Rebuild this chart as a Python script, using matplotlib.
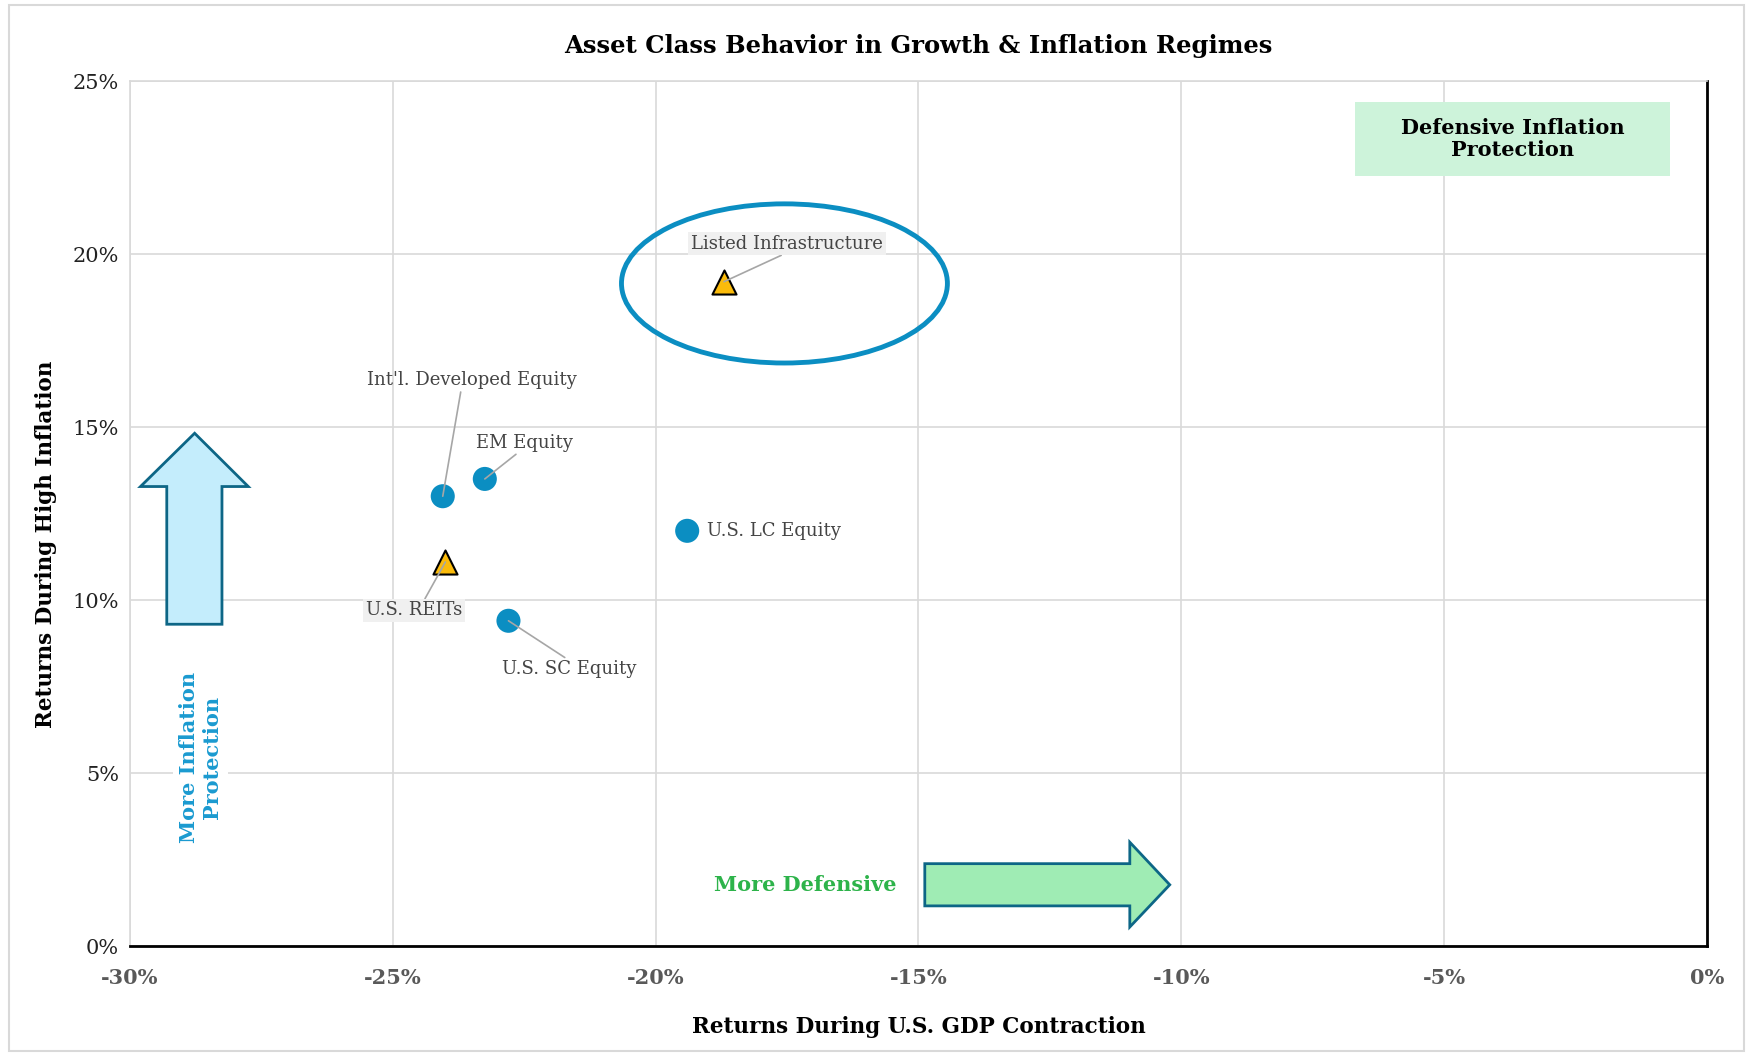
import numpy as np
import matplotlib.pyplot as plt
from matplotlib.patches import Ellipse, Rectangle, Polygon
from matplotlib.ticker import FuncFormatter

plt.rcParams['font.family'] = ['DejaVu Serif']

# data (returns in %)
assets = ["Int'l. Developed Equity", "EM Equity", "U.S. LC Equity", "U.S. SC Equity"]
gdp_ret = [-24.05, -23.25, -19.4, -22.8]
infl_ret = [13.0, 13.5, 12.0, 9.4]

real_assets = ["U.S. REITs", "Listed Infrastructure"]
gdp_real = [-24.0, -18.7]
infl_real = [11.1, 19.2]

# label positions (layout)
lab_pos = {
    "Int'l. Developed Equity": (-23.5, 16.35, 'center', (0.45, 0)),
    "EM Equity": (-22.5, 14.55, 'center', (0.45, 0)),
    "U.S. SC Equity": (-21.65, 8.0, 'center', (0.5, 1)),
    "U.S. REITs": (-24.6, 9.7, 'center', (0.6, 1)),
    "Listed Infrastructure": (-17.5, 20.3, 'center', (0.5, 0)),
}

blue = '#0b8ec2'
gold = '#fbbb0b'
txt = '#444444'

fig = plt.figure(figsize=(17.47, 10.55), dpi=100)
ax = fig.add_axes([0.0744, 0.1033, 0.9027, 0.8199])

ax.set_xlim(-30, 0)
ax.set_ylim(0, 25)
ax.set_xticks(np.arange(-30, 1, 5))
ax.set_yticks(np.arange(0, 26, 5))
ax.grid(True, color='#d9d9d9', lw=1.2)
ax.set_axisbelow(True)
ax.xaxis.set_major_formatter(FuncFormatter(lambda v, p: f'{v:.0f}%'))
ax.yaxis.set_major_formatter(FuncFormatter(lambda v, p: f'{v:.0f}%'))
ax.tick_params(length=0)
ax.tick_params(axis='x', pad=16, labelsize=15, labelcolor='#595959')
ax.tick_params(axis='y', pad=8, labelsize=15, labelcolor='#222222')
for lab in ax.get_xticklabels():
    lab.set_fontweight('bold')
for s in ['left', 'top']:
    ax.spines[s].set_color('#d9d9d9')
    ax.spines[s].set_linewidth(1.2)
for s in ['right', 'bottom']:
    ax.spines[s].set_color('black')
    ax.spines[s].set_linewidth(2)

ax.set_title('Asset Class Behavior in Growth & Inflation Regimes', fontsize=17.5,
             fontweight='bold', pad=20)
ax.set_xlabel('Returns During U.S. GDP Contraction', fontsize=15.5, fontweight='bold')
ax.xaxis.set_label_coords(0.5, -0.081)
ax.set_ylabel('Returns During High Inflation', fontsize=15.5, fontweight='bold')
ax.yaxis.set_label_coords(-0.046, 0.464)

# points
ax.scatter(gdp_ret, infl_ret, s=300, color=blue, zorder=4, edgecolors='none')
ax.scatter(gdp_real, infl_real, s=300, marker='^', color=gold, edgecolors='black',
           linewidths=1.5, zorder=4)

names = assets + real_assets
xs = gdp_ret + gdp_real
ys = infl_ret + infl_real
for n, x, y in zip(names, xs, ys):
    if n == "U.S. LC Equity":
        ax.text(x + 0.38, y, n, fontsize=13, color=txt, ha='left', va='center')
        continue
    tx, ty, ha, rp = lab_pos[n]
    bb = dict(boxstyle='square,pad=0.15', fc='#f0f0f0', ec='none') if n in real_assets else \
        dict(boxstyle='square,pad=0.15', fc='none', ec='none')
    ax.annotate(n, xy=(x, y), xytext=(tx, ty), fontsize=13, color=txt, ha=ha, va='center',
                bbox=bb, zorder=5,
                arrowprops=dict(arrowstyle='-', color='#a6a6a6', lw=1.2, shrinkA=0,
                                shrinkB=0, relpos=rp))

# highlight ellipse
ax.add_patch(Ellipse((-17.55, 19.15), 6.2, 4.6, fill=False, ec=blue, lw=3.5, zorder=3))

# quadrant box
ax.add_patch(Rectangle((-6.7, 22.25), 6.0, 2.15, fc='#cdf3da', ec='none', zorder=2))
ax.text(-3.7, 23.32, 'Defensive Inflation\nProtection', fontsize=15, fontweight='bold',
        ha='center', va='center', linespacing=1.15, zorder=3)

# arrows
edge = '#0d6686'
up = [(-29.3, 9.3), (-28.25, 9.3), (-28.25, 13.28), (-27.75, 13.28), (-28.77, 14.82),
      (-29.8, 13.28), (-29.3, 13.28)]
ax.add_patch(Polygon(up, closed=True, fc='#c4edfc', ec=edge, lw=2, zorder=3))
right = [(-14.88, 1.16), (-10.98, 1.16), (-10.98, 0.55), (-10.22, 1.77), (-10.98, 3.0),
         (-10.98, 2.38), (-14.88, 2.38)]
ax.add_patch(Polygon(right, closed=True, fc='#9fecb4', ec=edge, lw=2, zorder=3))

ax.text(-28.66, 5.45, 'More Inflation\nProtection', rotation=90, fontsize=15,
        fontweight='bold', color='#1a9ad0', ha='center', va='center', linespacing=1.15,
        bbox=dict(boxstyle='square,pad=0.3', fc='white', ec='none'), zorder=3)
ax.text(-17.15, 1.77, 'More Defensive', fontsize=15, fontweight='bold', color='#2db34a',
        ha='center', va='center', zorder=3)

# outer frame
fig.patches.append(Rectangle((0.005, 0.004), 0.993, 0.991, transform=fig.transFigure,
                             fill=False, ec='#d9d9d9', lw=1.5))

fig.savefig('out.png', dpi=100)
